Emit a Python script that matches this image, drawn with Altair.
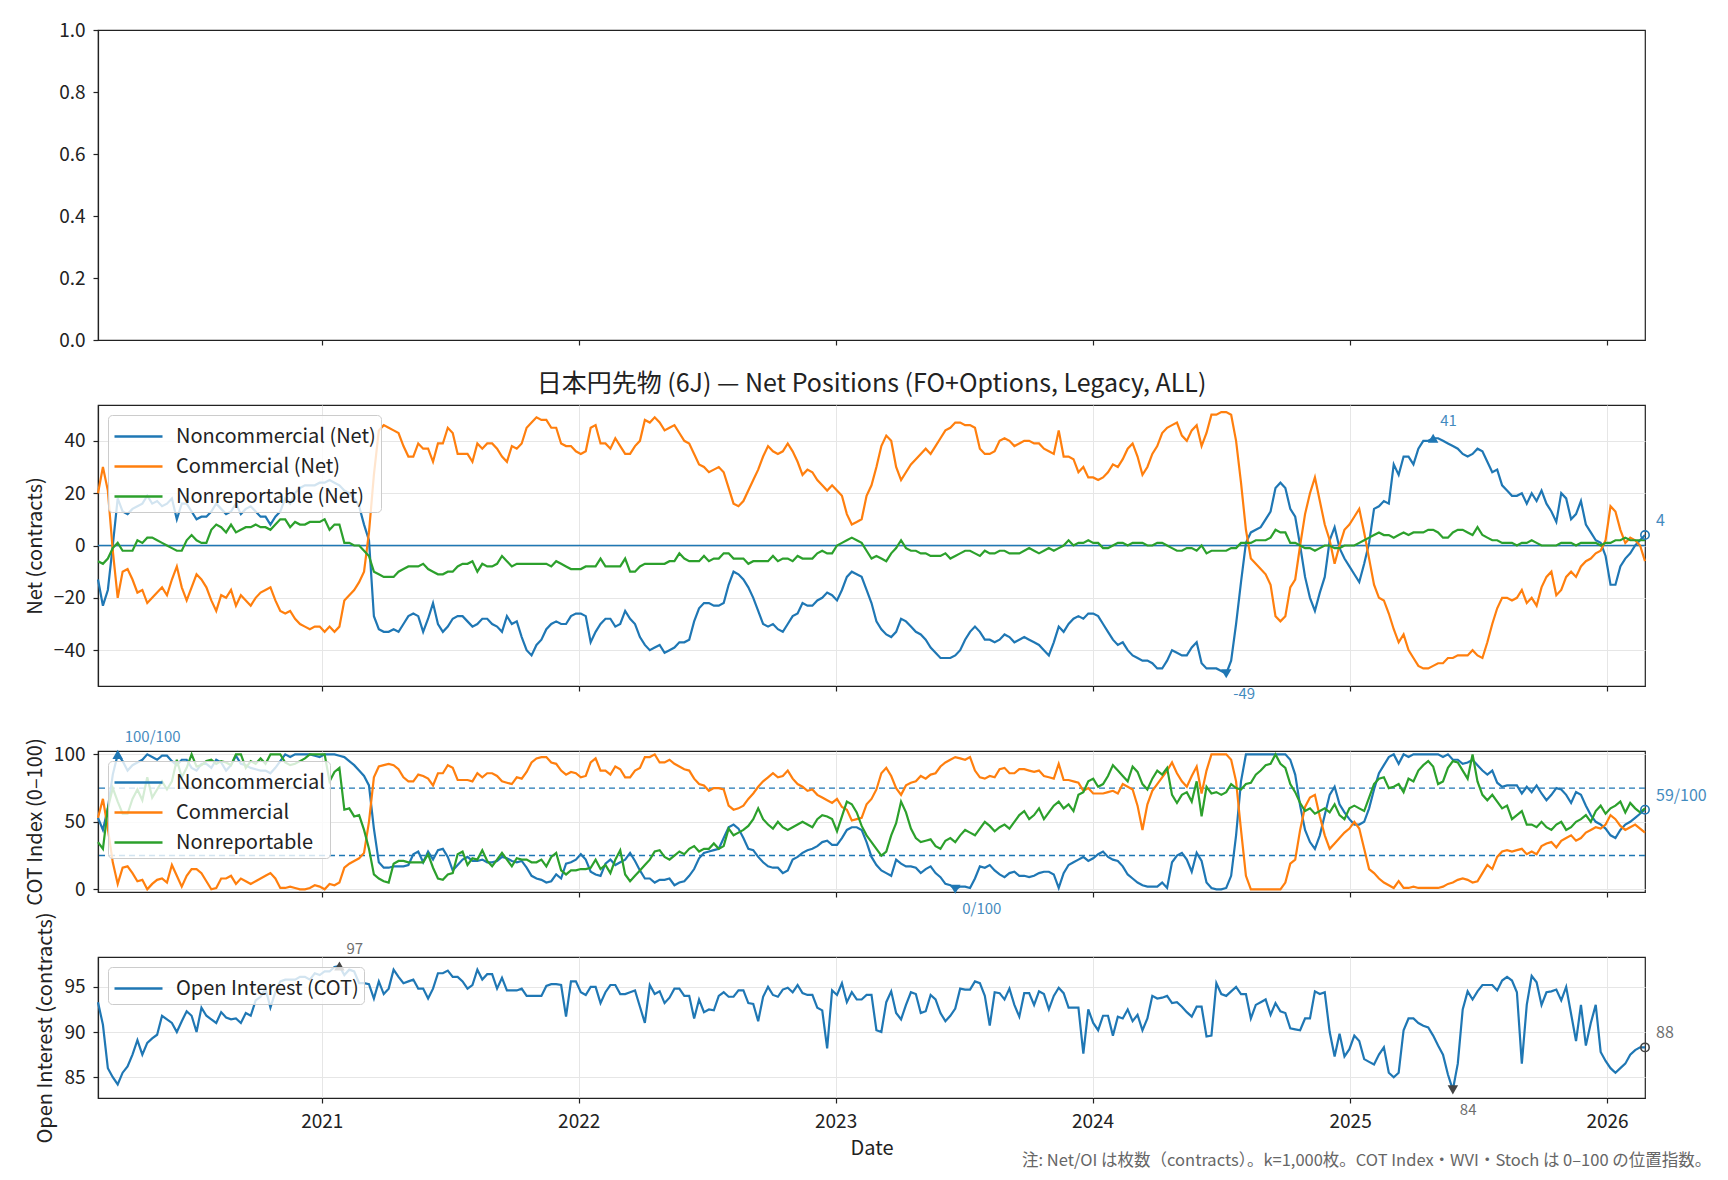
import altair as alt
import numpy as np
import pandas as pd

START = "2020-02-18"
N_WEEKS = 315

# ---- Net positions (thousand contracts) ----
net_noncomm = [
    -13, -23, -17, 0, 18, 13, 12, 14, 15, 16,
    19, 16, 17, 15, 16, 18, 10, 16, 16, 13,
    10, 11, 11, 13, 16, 14, 12, 13, 16, 12,
    14, 15, 13, 11, 11, 8, 11, 13, 18, 16,
    20, 22, 23, 23, 23, 24, 24, 25, 24, 23,
    21, 20, 18, 15, 8, 2, -27, -32, -33, -33,
    -32, -33, -30, -27, -26, -27, -33, -28, -22, -30,
    -33, -31, -28, -27, -27, -29, -31, -30, -28, -28,
    -30, -31, -33, -27, -30, -29, -35, -40, -42, -38,
    -36, -32, -30, -29, -30, -30, -27, -26, -26, -27,
    -37, -33, -30, -28, -28, -31, -30, -25, -28, -30,
    -35, -38, -40, -39, -38, -41, -40, -39, -37, -37,
    -36, -29, -24, -22, -22, -23, -23, -22, -15, -10,
    -11, -13, -16, -20, -25, -30, -31, -30, -32, -33,
    -30, -27, -26, -22, -23, -23, -21, -20, -18, -19,
    -21, -17, -12, -10, -11, -12, -17, -22, -29, -32,
    -34, -35, -33, -28, -29, -31, -33, -34, -36, -39,
    -41, -43, -43, -43, -42, -40, -36, -33, -31, -33,
    -36, -36, -37, -36, -34, -35, -37, -36, -35, -36,
    -37, -38, -40, -42, -37, -31, -33, -30, -28, -27,
    -28, -26, -26, -27, -30, -33, -36, -38, -37, -40,
    -42, -43, -44, -44, -45, -47, -47, -44, -40, -41,
    -42, -42, -39, -37, -45, -47, -47, -47, -48, -49,
    -44, -30, -14, 1, 5, 6, 7, 10, 13, 22,
    24, 22, 14, 11, 0, -12, -20, -25, -18, -12,
    2, 7, -1, -5, -8, -11, -14, -7, 1, 14,
    15, 17, 16, 31, 27, 34, 34, 31, 37, 40,
    40, 41, 41, 40, 39, 38, 37, 35, 34, 35,
    37, 36, 32, 28, 29, 23, 21, 19, 19, 20,
    16, 20, 17, 21, 16, 13, 9, 20, 18, 10,
    12, 17, 8, 5, 2, 1, -4, -15, -15, -8,
    -5, -3, 0, 2, 4,
]
net_comm = [
    20, 30, 21, -2, -20, -10, -9, -13, -18, -17,
    -22, -20, -18, -16, -19, -13, -8, -16, -21, -16,
    -11, -13, -16, -21, -25, -19, -20, -17, -23, -19,
    -21, -23, -20, -18, -17, -16, -21, -25, -26, -25,
    -28, -30, -31, -32, -31, -31, -33, -31, -33, -31,
    -21, -19, -17, -14, -10, 5, 27, 44, 46, 45,
    44, 43, 38, 34, 34, 39, 37, 37, 32, 39,
    39, 45, 43, 35, 35, 35, 32, 39, 37, 39,
    39, 37, 34, 32, 38, 37, 39, 45, 47, 49,
    48, 48, 45, 45, 39, 38, 38, 36, 35, 36,
    45, 46, 39, 39, 37, 41, 38, 35, 35, 38,
    40, 48, 47, 49, 47, 44, 45, 46, 43, 40,
    39, 35, 31, 30, 28, 29, 30, 28, 22, 16,
    15, 17, 21, 25, 29, 34, 38, 36, 35, 36,
    39, 36, 32, 27, 29, 28, 25, 23, 21, 23,
    21, 19, 12, 8, 9, 10, 19, 23, 30, 38,
    42, 40, 30, 25, 28, 31, 33, 35, 37, 35,
    38, 41, 44, 45, 47, 47, 46, 46, 45, 37,
    35, 35, 36, 40, 41, 40, 38, 39, 40, 40,
    39, 39, 37, 36, 35, 44, 34, 34, 33, 28,
    30, 26, 26, 25, 26, 28, 31, 30, 33, 37,
    39, 34, 27, 30, 35, 38, 43, 45, 46, 47,
    42, 40, 44, 46, 38, 43, 50, 50, 51, 51,
    50, 40, 24, 6, -5, -7, -9, -11, -15, -27,
    -29, -27, -16, -13, 0, 12, 20, 26, 17, 8,
    2, -7, 0, 6, 8, 11, 14, 5, -5, -15,
    -20, -21, -26, -32, -37, -34, -40, -43, -46, -47,
    -47, -46, -45, -45, -43, -43, -42, -42, -42, -40,
    -42, -43, -37, -30, -24, -20, -20, -21, -20, -17,
    -22, -20, -23, -16, -12, -10, -19, -17, -12, -10,
    -12, -8, -6, -5, -3, -2, 2, 15, 13, 6,
    1, 3, 2, 0, -6,
]
net_nonrep = [
    -6, -7, -5, -1, 1, -2, -2, -2, 2, 1,
    3, 3, 2, 1, 0, -1, -2, -2, 2, 4,
    2, 1, 1, 6, 8, 7, 5, 8, 5, 6,
    7, 7, 8, 7, 7, 6, 8, 10, 10, 7,
    9, 8, 8, 9, 9, 9, 10, 6, 8, 8,
    1, 1, 0, 0, -2, -4, -10, -11, -12, -12,
    -12, -10, -9, -8, -8, -8, -7, -9, -10, -11,
    -11, -10, -10, -8, -7, -7, -6, -10, -7, -8,
    -8, -7, -4, -6, -8, -7, -7, -7, -7, -7,
    -7, -7, -8, -6, -7, -8, -9, -9, -9, -8,
    -8, -8, -5, -8, -8, -8, -8, -5, -10, -10,
    -8, -7, -7, -7, -7, -7, -6, -6, -3, -5,
    -6, -6, -6, -4, -6, -5, -5, -3, -3, -5,
    -5, -5, -7, -6, -6, -6, -6, -4, -6, -5,
    -5, -6, -4, -5, -5, -5, -3, -2, -3, -3,
    0, 1, 2, 3, 2, 1, -2, -5, -4, -5,
    -6, -3, -1, 2, -1, -2, -2, -3, -3, -4,
    -4, -4, -3, -5, -4, -3, -2, -2, -3, -4,
    -2, -3, -3, -2, -2, -3, -3, -3, -2, -1,
    -2, -3, -2, -1, -2, -1, 0, 2, 0, 1,
    1, 2, 1, 1, -1, -1, 0, 1, 1, 0,
    1, 1, 1, 0, 0, 1, 1, 0, -1, -2,
    -2, -1, -1, -2, 0, -3, -2, -2, -2, -2,
    -1, -1, 1, 1, 1, 2, 2, 2, 3, 6,
    5, 5, 1, 1, 0, -1, -1, -2, -1, 0,
    0, -1, -1, 0, 0, 0, 1, 2, 3, 4,
    5, 4, 4, 3, 4, 5, 4, 5, 5, 5,
    6, 6, 5, 3, 3, 5, 6, 6, 5, 4,
    7, 4, 3, 2, 2, 1, 1, 1, 0, 1,
    1, 2, 1, 0, 0, 0, 0, 1, 1, 1,
    0, 1, 1, 1, 1, 0, 1, 1, 2, 2,
    3, 2, 2, 2, 2,
]

# ---- COT Index (0-100) ----
cot_noncomm = [
    53, 44, 60, 85, 100, 95, 88, 92, 94, 96,
    100, 98, 96, 99, 99, 95, 92, 96, 96, 90,
    88, 93, 93, 90, 96, 94, 88, 92, 99, 93,
    92, 90, 89, 88, 88, 86, 90, 95, 100, 98,
    100, 100, 100, 100, 99, 98, 100, 100, 100, 99,
    98, 95, 92, 88, 84, 77, 45, 20, 16, 16,
    17, 17, 17, 18, 26, 28, 20, 28, 22, 29,
    30, 24, 14, 18, 22, 24, 21, 21, 22, 20,
    20, 21, 24, 23, 21, 20, 21, 16, 10, 8,
    7, 5, 6, 11, 8, 19, 20, 22, 26, 22,
    13, 11, 10, 19, 22, 18, 20, 22, 27, 21,
    14, 8, 8, 5, 7, 7, 8, 3, 5, 6,
    10, 15, 23, 27, 28, 29, 30, 38, 46, 48,
    45, 38, 30, 29, 24, 20, 17, 16, 16, 12,
    14, 22, 24, 27, 29, 30, 32, 35, 36, 33,
    33, 38, 44, 46, 46, 44, 35, 24, 18, 14,
    12, 10, 22, 19, 17, 17, 16, 12, 15, 17,
    12, 9, 4, 3, 0, 2, 2, 1, 8, 17,
    16, 18, 14, 11, 9, 12, 13, 10, 10, 9,
    10, 12, 13, 13, 11, 1, 12, 18, 20, 22,
    24, 21, 23, 26, 28, 24, 22, 21, 17, 11,
    8, 5, 3, 2, 2, 2, 5, 1, 20, 25,
    27, 22, 13, 27, 21, 5, 1, 0, 0, 1,
    10, 40, 80, 100, 100, 100, 100, 100, 100, 100,
    100, 100, 96, 85, 62, 44, 35, 30, 40, 55,
    70, 76, 63, 57, 52, 48, 48, 50, 60, 74,
    86, 92, 98, 100, 93, 100, 98, 100, 100, 100,
    100, 100, 100, 98, 100, 96, 96, 93, 94, 96,
    92, 88, 85, 88, 79, 76, 77, 77, 77, 71,
    76, 72, 77, 71, 66, 70, 75, 74, 70, 64,
    72, 70, 62, 55, 50, 48, 45, 40, 38, 44,
    48, 50, 53, 56, 59,
]
cot_comm = [
    53, 67, 45, 20, 4, 16, 17, 12, 6, 7,
    0, 4, 7, 8, 5, 18, 10, 2, 10, 15,
    15, 12, 6, 0, 1, 8, 8, 10, 4, 8,
    6, 4, 6, 8, 10, 12, 8, 1, 1, 2,
    1, 0, 0, 1, 3, 2, 0, 4, 3, 5,
    16, 19, 21, 23, 27, 50, 83, 91, 92, 93,
    92, 89, 83, 80, 80, 85, 84, 82, 77, 86,
    86, 92, 90, 81, 81, 81, 80, 86, 83, 86,
    86, 84, 80, 79, 78, 83, 82, 87, 94, 97,
    98, 98, 94, 93, 88, 85, 87, 86, 83, 84,
    94, 97, 88, 88, 85, 91, 89, 83, 83, 88,
    90, 98, 98, 100, 94, 94, 96, 93, 91, 89,
    88, 82, 78, 77, 73, 75, 75, 74, 62, 59,
    60, 62, 67, 71, 76, 80, 83, 86, 83, 84,
    88, 82, 78, 76, 73, 74, 70, 68, 66, 64,
    67, 61, 59, 51, 52, 53, 63, 67, 74, 86,
    90, 84, 75, 70, 77, 79, 80, 84, 82, 85,
    86, 91, 94, 96, 98, 97, 96, 98, 88, 83,
    82, 84, 83, 89, 90, 86, 86, 89, 89, 88,
    87, 88, 84, 83, 82, 93, 81, 81, 80, 79,
    73, 75, 71, 71, 71, 72, 73, 71, 78, 76,
    74, 62, 44, 63, 73, 78, 83, 88, 94, 86,
    80, 76, 84, 91, 71, 88, 100, 100, 100, 100,
    96, 80, 44, 10, 0, 0, 0, 0, 0, 0,
    0, 5, 19, 22, 44, 61, 68, 70, 54, 40,
    30, 34, 38, 42, 45, 50, 45, 30, 15, 12,
    8, 5, 3, 1, 6, 1, 1, 2, 1, 1,
    1, 1, 1, 2, 4, 5, 7, 8, 7, 5,
    6, 12, 18, 15, 24, 28, 29, 28, 29, 30,
    26, 28, 26, 32, 34, 35, 31, 36, 38, 40,
    36, 38, 42, 44, 46, 45, 48, 55, 52, 47,
    44, 46, 48, 45, 42,
]
cot_nonrep = [
    35, 30, 60, 75, 65, 56, 56, 67, 74, 66,
    83, 68, 74, 80, 74, 80, 96, 83, 90, 100,
    91, 92, 95, 96, 93, 95, 94, 92, 100, 100,
    90, 95, 93, 97, 93, 100, 100, 100, 94, 92,
    93, 95, 97, 100, 100, 100, 100, 80, 87, 90,
    59, 60, 54, 55, 44, 30, 11, 8, 6, 5,
    19, 21, 21, 20, 20, 20, 20, 26, 16, 8,
    7, 11, 12, 26, 28, 18, 23, 22, 29, 21,
    17, 22, 27, 22, 17, 23, 22, 22, 20, 20,
    22, 17, 24, 27, 14, 11, 14, 14, 15, 15,
    16, 22, 15, 18, 12, 22, 29, 11, 6, 10,
    14, 18, 22, 28, 29, 24, 22, 25, 28, 26,
    30, 32, 28, 30, 30, 34, 30, 32, 45, 40,
    42, 44, 47, 52, 60, 52, 48, 45, 50, 46,
    44, 46, 48, 50, 48, 46, 52, 55, 54, 52,
    43, 54, 65, 63, 57, 47, 40, 35, 30, 25,
    28, 40, 49, 65, 57, 45, 38, 35, 36, 37,
    32, 30, 36, 38, 35, 40, 44, 42, 40, 45,
    50, 47, 43, 46, 48, 45, 50, 55, 58, 52,
    55, 60, 52, 57, 62, 65, 60, 63, 58, 70,
    72, 80, 82, 76, 78, 84, 92, 88, 84, 80,
    91, 87, 78, 74, 82, 88, 85, 90, 70, 64,
    70, 72, 65, 80, 54, 76, 71, 72, 70, 72,
    78, 75, 74, 78, 79, 85, 88, 92, 93, 100,
    93, 90, 78, 72, 64, 58, 60, 56, 58, 60,
    57, 63, 55, 52, 60, 62, 60, 58, 68, 78,
    82, 83, 75, 76, 78, 72, 82, 80, 88, 92,
    95, 91, 78, 80, 90, 95, 94, 88, 82, 100,
    80, 70, 66, 70, 65, 60, 62, 52, 55, 58,
    48, 48, 46, 50, 46, 44, 48, 50, 44, 46,
    50, 52, 55, 50, 58, 62, 56, 60, 62, 65,
    57, 64, 60, 57, 60,
]

# ---- Open Interest (thousand contracts) ----
open_interest = [
    93.3, 90.8, 86.0, 85.0, 84.2, 85.5, 86.2, 87.5, 89.1, 87.5,
    88.8, 89.3, 89.7, 91.8, 91.4, 91.0, 90.0, 91.2, 92.3, 91.8,
    90.0, 92.7, 91.8, 91.4, 91.0, 92.2, 91.6, 91.4, 91.5, 91.0,
    92.1, 91.8, 93.5, 93.9, 94.8, 92.7, 94.4, 95.6, 95.8, 95.8,
    95.8, 96.1, 96.1, 95.8, 96.5, 96.3, 96.7, 96.7, 97.2, 97.3,
    96.3, 96.9, 96.7, 95.4, 95.4, 95.3, 93.7, 95.6, 94.2, 94.8,
    96.9, 96.1, 95.4, 95.6, 95.8, 94.8, 94.8, 93.7, 94.8, 96.5,
    96.5, 96.8, 96.1, 96.1, 95.6, 94.8, 95.2, 96.9, 95.8, 96.4,
    96.4, 94.8, 96.0, 94.6, 94.6, 94.6, 94.8, 94.0, 94.0, 94.0,
    94.0, 95.1, 95.3, 95.3, 95.2, 91.7, 95.6, 95.6, 94.4, 94.1,
    95.0, 95.0, 93.2, 94.4, 95.2, 95.2, 94.2, 94.2, 94.4, 94.6,
    92.8, 91.0, 95.2, 94.2, 94.5, 93.2, 93.8, 94.8, 94.8, 94.0,
    94.0, 91.5, 93.6, 92.2, 92.5, 92.4, 94.0, 94.4, 93.9, 93.9,
    94.6, 94.6, 93.2, 93.1, 91.2, 93.9, 95.0, 94.1, 93.9, 94.7,
    94.9, 94.4, 95.2, 94.3, 94.1, 94.1, 92.7, 92.4, 88.2, 94.6,
    94.1, 95.4, 93.3, 94.4, 93.6, 93.6, 94.1, 94.1, 90.2, 90.0,
    93.3, 94.5, 92.1, 91.4, 93.0, 94.4, 94.2, 92.1, 92.3, 94.1,
    93.6, 92.1, 91.2, 91.8, 92.6, 94.8, 94.7, 94.7, 95.6, 95.4,
    94.0, 90.7, 94.4, 94.3, 93.6, 94.8, 93.0, 91.7, 94.3, 94.3,
    93.0, 94.5, 94.2, 92.5, 94.0, 94.9, 94.3, 92.7, 92.7, 92.7,
    87.6, 92.5, 91.0, 90.2, 91.8, 91.8, 89.6, 91.7, 91.5, 92.5,
    91.2, 91.9, 90.2, 91.5, 94.0, 93.7, 93.8, 94.0, 93.2, 93.3,
    92.8, 92.2, 91.7, 92.8, 92.8, 89.5, 89.6, 95.4, 94.2, 94.0,
    94.5, 95.0, 94.2, 94.2, 91.5, 93.0, 93.3, 93.6, 91.9, 93.2,
    92.3, 92.1, 90.4, 90.3, 90.2, 91.5, 91.5, 94.5, 94.2, 94.4,
    90.0, 87.3, 89.8, 87.3, 88.1, 89.6, 89.0, 87.0, 86.7, 86.4,
    87.5, 88.3, 85.5, 85.0, 85.5, 90.2, 91.5, 91.5, 91.0, 90.7,
    90.5, 89.6, 88.5, 87.5, 85.3, 83.6, 86.5, 92.5, 94.5, 93.6,
    94.5, 95.2, 95.2, 95.2, 94.6, 95.7, 96.1, 95.7, 94.4, 86.5,
    93.0, 96.2, 95.5, 93.0, 94.4, 94.5, 94.7, 93.5, 95.0, 92.0,
    89.0, 93.0, 88.5, 91.0, 93.0, 87.8, 86.8, 86.0, 85.5, 86.0,
    86.5, 87.5, 88.0, 88.3, 88.3,
]

NET_NAMES = ["Noncommercial (Net)", "Commercial (Net)", "Nonreportable (Net)"]
COT_NAMES = ["Noncommercial", "Commercial", "Nonreportable"]
OI_NAME = "Open Interest (COT)"
YEAR_TICKS = [2021, 2022, 2023, 2024, 2025, 2026]
NET_TICKS = [-40, -20, 0, 20, 40]
COT_TICKS = [0, 50, 100]
OI_TICKS = [85, 90, 95]
TOP_TICKS = [0.0, 0.2, 0.4, 0.6, 0.8, 1.0]
COT_BANDS = [25, 75]

TITLE = "日本円先物 (6J) — Net Positions (FO+Options, Legacy, ALL)"
NOTE = "注: Net/OI は枚数（contracts）。k=1,000枚。COT Index・WVI・Stoch は 0–100 の位置指数。"

for _n, _a in [("net_noncomm", net_noncomm), ("net_comm", net_comm), ("net_nonrep", net_nonrep),
               ("cot_noncomm", cot_noncomm), ("cot_comm", cot_comm), ("cot_nonrep", cot_nonrep),
               ("open_interest", open_interest)]:
    if len(_a) != N_WEEKS:
        raise ValueError(f"{_n} has {len(_a)} values")

FONT = "Noto Sans CJK JP"
BLUE, ORANGE, GREEN = "#1f77b4", "#ff7f0e", "#2ca02c"
GRAY_TXT = "#555555"
W = 1547

dates = pd.date_range(START, periods=N_WEEKS, freq="7D")

X_SCALE = alt.Scale(domain=[alt.DateTime(year=2020, month=2, date=18),
                            alt.DateTime(year=2026, month=2, date=24)])
TICK_DT = [alt.DateTime(year=y, month=1, date=1) for y in YEAR_TICKS]


def x_enc(labels, grid=True):
    if labels:
        ax = alt.Axis(values=TICK_DT, format="%Y", labels=True, grid=grid, title="Date",
                      gridColor="#e6e6e6", labelPadding=9, titlePadding=7)
    else:
        ax = alt.Axis(values=TICK_DT, format="%Y", labels=False, grid=grid, title=None,
                      gridColor="#e6e6e6")
    return alt.X("date:T", scale=X_SCALE, axis=ax)


def legend():
    return alt.Legend(orient="top-left", title=None, offset=10, padding=5,
                      fillColor="rgba(255,255,255,0.8)", strokeColor="#cccccc",
                      cornerRadius=4, labelFontSize=20, labelFont=FONT, labelColor="#222",
                      labelLimit=600, symbolType="M-1,0H2.2", symbolSize=900, symbolStrokeWidth=2.5,
                      labelOffset=30, rowPadding=3)


def long_df(names, arrays):
    rows = []
    for nm, arr in zip(names, arrays):
        rows.append(pd.DataFrame({"date": dates, "value": arr, "series": nm}))
    return pd.concat(rows, ignore_index=True)


def point_df(arr, idx, label):
    return pd.DataFrame({"date": [dates[idx]], "value": [arr[idx]], "label": [label]})


def annotations(arr, xe, ye, txt_color, fmt, mcolor):
    a = np.asarray(arr, dtype=float)
    imax, imin, iend = int(np.argmax(a)), int(np.argmin(a)), len(a) - 1
    hi = point_df(arr, imax, fmt(a[imax]))
    lo = point_df(arr, imin, fmt(a[imin]))
    en = point_df(arr, iend, fmt(a[iend]))
    return [
        alt.Chart(hi).mark_point(shape="triangle-up", filled=True, size=110, color=mcolor, opacity=1)
        .encode(x=xe, y=ye),
        alt.Chart(hi).mark_text(align="left", baseline="bottom", dx=7, dy=-9, fontSize=15,
                                color=txt_color, opacity=0.85, font=FONT)
        .encode(x=xe, y=ye, text="label:N"),
        alt.Chart(lo).mark_point(shape="triangle-down", filled=True, size=110, color=mcolor, opacity=1)
        .encode(x=xe, y=ye),
        alt.Chart(lo).mark_text(align="left", baseline="top", dx=7, dy=13, fontSize=15,
                                color=txt_color, opacity=0.85, font=FONT)
        .encode(x=xe, y=ye, text="label:N"),
        alt.Chart(en).mark_point(shape="circle", filled=False, size=70, color=mcolor,
                                 strokeWidth=1.6, opacity=1)
        .encode(x=xe, y=ye),
        alt.Chart(en).mark_text(align="left", baseline="bottom", dx=11, dy=-6, fontSize=16,
                                color=txt_color, opacity=0.85, font=FONT)
        .encode(x=xe, y=ye, text="label:N"),
    ]


# ---- Panel 1: empty axes ----
top_df = pd.DataFrame({"date": [dates[0], dates[-1]], "value": [0.0, 0.0]})
top = alt.Chart(top_df).mark_line(opacity=0).encode(
    x=x_enc(False, grid=False),
    y=alt.Y("value:Q", scale=alt.Scale(domain=[0, 1], nice=False),
            axis=alt.Axis(values=TOP_TICKS, format=".1f", grid=False, title=None)),
).properties(width=W, height=310)

# ---- Panel 2: net positions ----
net_df = long_df(NET_NAMES, [net_noncomm, net_comm, net_nonrep])
xe2 = x_enc(False)
ye2 = alt.Y("value:Q", scale=alt.Scale(domain=[-53.7, 53.7], nice=False, zero=False),
            axis=alt.Axis(values=NET_TICKS, title="Net (contracts)", gridColor="#e6e6e6"))
net_zero = alt.Chart(pd.DataFrame({"value": [0]})).mark_rule(color=BLUE, strokeWidth=1.4).encode(y=ye2)
net_lines = alt.Chart(net_df).mark_line(strokeWidth=2.2).encode(
    x=xe2, y=ye2,
    color=alt.Color("series:N", scale=alt.Scale(domain=NET_NAMES, range=[BLUE, ORANGE, GREEN]),
                    legend=legend()),
    order=alt.Order("date:T"),
)
net = alt.layer(net_zero, net_lines,
                *annotations(net_noncomm, xe2, ye2, BLUE, lambda v: f"{v:.0f}", BLUE)
                ).properties(width=W, height=281,
                             title=alt.TitleParams(TITLE, fontSize=25, font=FONT, fontWeight="normal",
                                                   color="#222", anchor="middle", offset=8))

# ---- Panel 3: COT index ----
cot_df = long_df(COT_NAMES, [cot_noncomm, cot_comm, cot_nonrep])
xe3 = x_enc(False)
ye3 = alt.Y("value:Q", scale=alt.Scale(domain=[-2, 102.5], nice=False, zero=False),
            axis=alt.Axis(values=COT_TICKS, title="COT Index (0–100)", gridColor="#e6e6e6"))
cot_bands = alt.Chart(pd.DataFrame({"value": COT_BANDS})).mark_rule(
    color=BLUE, strokeWidth=1.4, strokeDash=[6, 4]).encode(y=ye3)
cot_lines = alt.Chart(cot_df).mark_line(strokeWidth=2.2).encode(
    x=xe3, y=ye3,
    color=alt.Color("series:N", scale=alt.Scale(domain=COT_NAMES, range=[BLUE, ORANGE, GREEN]),
                    legend=legend()),
    order=alt.Order("date:T"),
)
cot = alt.layer(cot_bands, cot_lines,
                *annotations(cot_noncomm, xe3, ye3, BLUE, lambda v: f"{v:.0f}/100", BLUE)
                ).properties(width=W, height=141)

# ---- Panel 4: open interest ----
oi_df = pd.DataFrame({"date": dates, "value": open_interest, "series": OI_NAME})
xe4 = x_enc(True)
ye4 = alt.Y("value:Q", scale=alt.Scale(domain=[82.7, 98.3], nice=False, zero=False),
            axis=alt.Axis(values=OI_TICKS, title="Open Interest (contracts)", gridColor="#e6e6e6"))
oi_line = alt.Chart(oi_df).mark_line(strokeWidth=2.2).encode(
    x=xe4, y=ye4,
    color=alt.Color("series:N", scale=alt.Scale(domain=[OI_NAME], range=[BLUE]), legend=legend()),
)
oi = alt.layer(oi_line,
               *annotations(open_interest, xe4, ye4, GRAY_TXT, lambda v: f"{v:.0f}", "#444444")
               ).properties(width=W, height=141)

chart = alt.vconcat(top, net, cot, oi, spacing=65, bounds="flush").resolve_scale(
    color="independent", y="independent"
).resolve_legend(color="independent").resolve_axis(x="independent", y="independent").properties(
    padding={"left": 16, "top": 12, "right": 4, "bottom": 4},
    title=alt.TitleParams(NOTE, orient="bottom", anchor="end", fontSize=16.5, font=FONT,
                          fontWeight="normal", color="#666666", offset=-6, dx=4),
).configure(font=FONT).configure_view(stroke="#222222", strokeWidth=1.2).configure_axis(
    labelFont=FONT, labelFontSize=19, labelColor="#222", titleFont=FONT, titleFontSize=20,
    titleFontWeight="normal", titleColor="#222", tickColor="#222", tickSize=5,
    domainColor="#222", domainWidth=1.2, tickWidth=1.2, labelPadding=8, titlePadding=8,
)

chart.save("out.html", embed_options={"renderer": "svg", "actions": False})
